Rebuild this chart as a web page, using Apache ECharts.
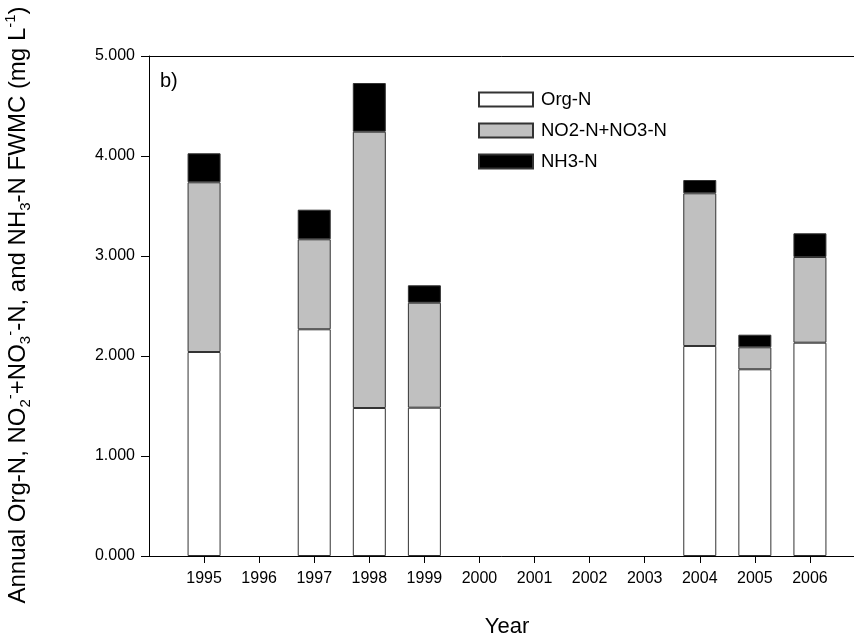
<!DOCTYPE html>
<html>
<head>
<meta charset="utf-8">
<script src="https://cdn.jsdelivr.net/npm/echarts@6/dist/echarts.min.js"></script>
<style>html,body{margin:0;padding:0;background:#fff}#c{width:854px;height:639px}</style>
</head>
<body>
<div id="c"></div>
<script>
var axisYears = [1994, 1995, 1996, 1997, 1998, 1999, 2000, 2001, 2002, 2003, 2004, 2005, 2006, 2007];
var years = [1995, 1996, 1997, 1998, 1999, 2000, 2001, 2002, 2003, 2004, 2005, 2006];
var dataYears = [1995, 1997, 1998, 1999, 2004, 2005, 2006];
var orgN = [2.04, 2.267, 1.48, 1.483, 2.10, 1.867, 2.133];
var no3N = [1.697, 0.90, 2.763, 1.05, 1.527, 0.22, 0.857];
var nh3N = [0.29, 0.296, 0.487, 0.174, 0.133, 0.126, 0.237];
var seriesNames = ['Org-N', 'NO2-N+NO3-N', 'NH3-N'];

var FONT = 'Liberation Sans, Arial, sans-serif';
function full(vals) {
  return axisYears.map(function (y) {
    var i = dataYears.indexOf(y);
    return i < 0 ? null : vals[i];
  });
}
function shown(idx) { return years.indexOf(axisYears[idx]) >= 0; }

var chart = echarts.init(document.getElementById('c'), null, { renderer: 'canvas' });
var barStyle = function (color) {
  return { color: color, borderColor: '#333', borderWidth: 1 };
};
chart.setOption({
  animation: false,
  backgroundColor: '#fff',
  grid: { left: 149, top: 56, bottom: 83, right: -11, containLabel: false, outerBoundsMode: 'none' },
  legend: {
    orient: 'vertical', left: 473, top: 85,
    icon: 'rect',
    itemWidth: 54, itemHeight: 14, itemGap: 12,
    data: seriesNames,
    textStyle: { fontFamily: FONT, fontSize: 18.5, color: '#000', padding: [0, 0, 0, 3] }
  },
  xAxis: [{
    type: 'category', boundaryGap: false,
    data: axisYears.map(String),
    name: 'Year', nameLocation: 'middle', nameGap: 60,
    nameTextStyle: { fontFamily: FONT, fontSize: 22, color: '#000' },
    axisLine: { lineStyle: { color: '#000', width: 1 } },
    axisTick: { show: true, length: 7, interval: function (i) { return shown(i); }, lineStyle: { color: '#000' } },
    axisLabel: { interval: function (i) { return shown(i); }, margin: 15, fontFamily: FONT, fontSize: 16, color: '#000' },
    splitLine: { show: false }
  }, {
    type: 'category', boundaryGap: false, position: 'top',
    data: axisYears.map(String),
    axisLine: { show: true, lineStyle: { color: '#000', width: 1 } },
    axisTick: { show: false }, axisLabel: { show: false }, splitLine: { show: false }
  }],
  yAxis: {
    type: 'value', min: 0, max: 5, interval: 1,
    axisLine: { show: true, lineStyle: { color: '#000', width: 1 } },
    axisTick: { show: true, length: 8, lineStyle: { color: '#000' } },
    axisLabel: { margin: 14, fontFamily: FONT, fontSize: 16, color: '#000',
      formatter: function (v) { return v.toFixed(3); } },
    splitLine: { show: false }
  },
  graphic: [{
    type: 'text', left: 160, top: 71,
    style: { text: 'b)', fontFamily: FONT, fontSize: 20, fill: '#000' }
  }, {
    type: 'text', x: 18, y: 305, rotation: Math.PI / 2,
    style: {
      text: 'Annual Org-N, NO{sub|2}{sup|-}+NO{sub|3}{sup|-}-N, and NH{sub|3}-N FWMC (mg L{sup|-1})',
      fontFamily: FONT, fontSize: 24, fill: '#000', align: 'center', verticalAlign: 'middle',
      rich: {
        sub: { fontFamily: FONT, fontSize: 15, verticalAlign: 'bottom', lineHeight: 30, padding: [10, 0, 0, 0] },
        sup: { fontFamily: FONT, fontSize: 15, verticalAlign: 'top', lineHeight: 30, padding: [0, 0, 10, 0] }
      }
    }
  }],
  series: [
    { name: seriesNames[0], type: 'bar', stack: 'n', barWidth: 33, data: full(orgN), itemStyle: barStyle('#ffffff') },
    { name: seriesNames[1], type: 'bar', stack: 'n', barWidth: 33, data: full(no3N), itemStyle: barStyle('#c0c0c0') },
    { name: seriesNames[2], type: 'bar', stack: 'n', barWidth: 33, data: full(nh3N), itemStyle: barStyle('#000000') }
  ]
});
</script>
</body>
</html>
